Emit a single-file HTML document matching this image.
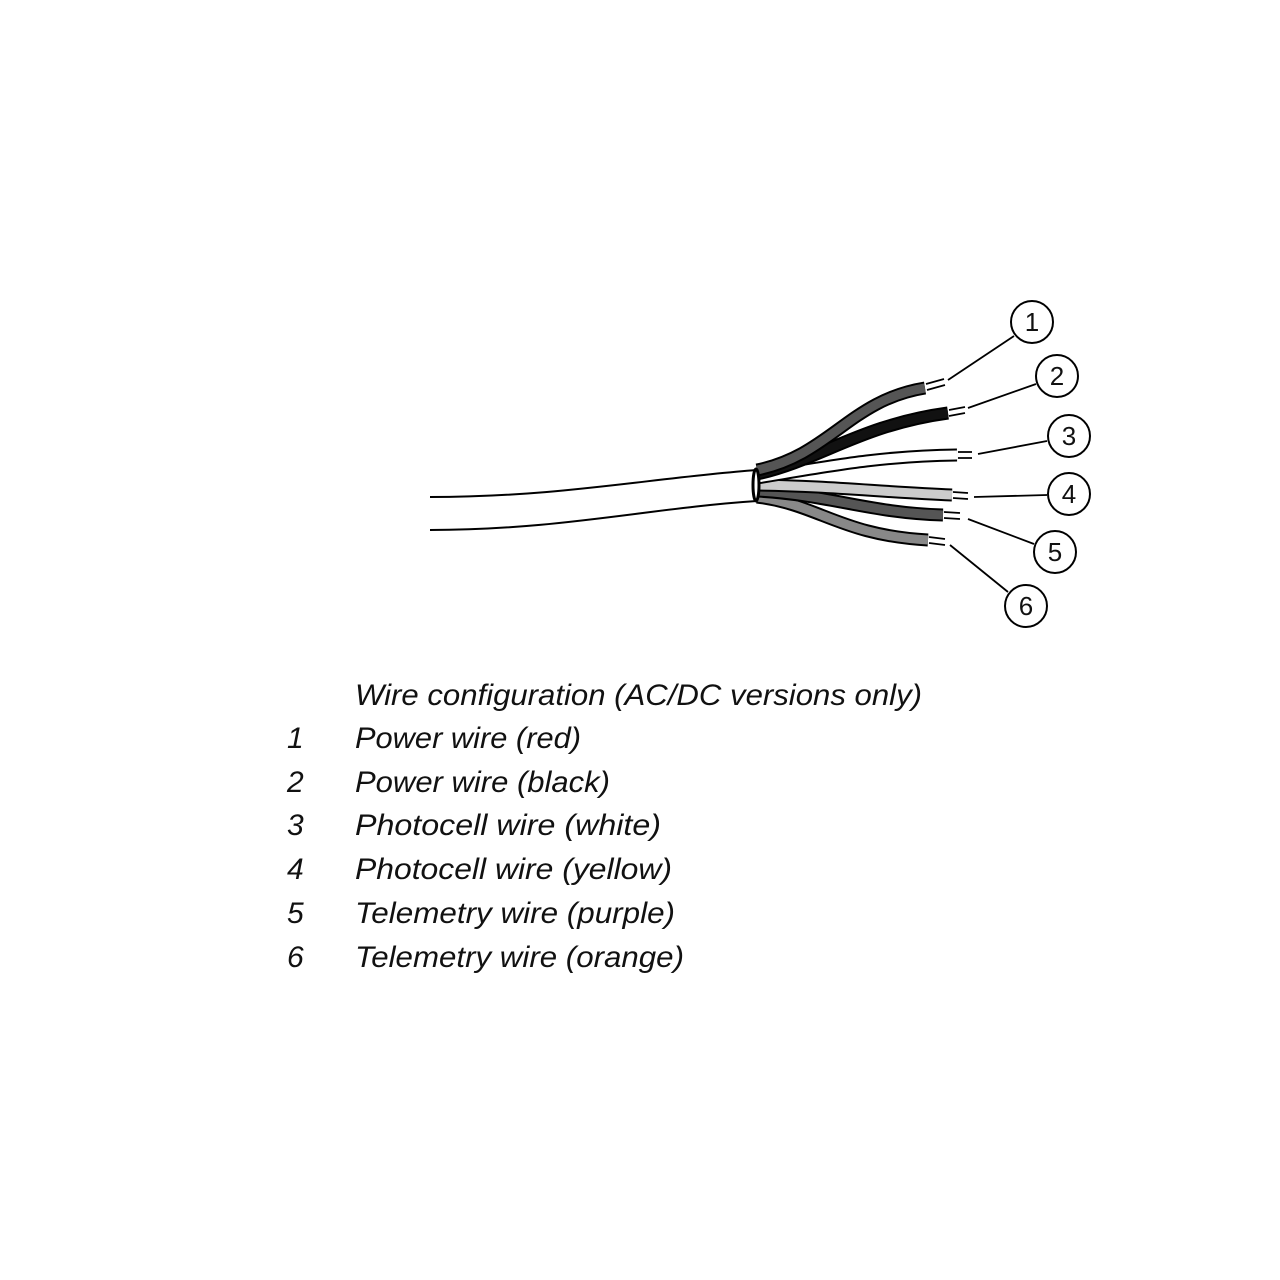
<!DOCTYPE html>
<html><head><style>
html,body{margin:0;padding:0;background:#fff;}
svg{display:block}
text{font-family:"Liberation Sans",sans-serif;font-style:italic;fill:#111}
</style></head><body>
<svg width="1280" height="1280" viewBox="0 0 1280 1280" xmlns="http://www.w3.org/2000/svg">
<g fill="none" stroke="#000" stroke-linecap="butt">
<path d="M430 497 C560 497 650 478 757 470" stroke-width="2"/>
<path d="M430 530 C560 530 650 508 757 501" stroke-width="2"/>
<path d="M757 497 C820 505 840 535 928 540" stroke="#000" stroke-width="13"/>
<path d="M757 497 C820 505 840 535 928 540" stroke="#888" stroke-width="9"/>
<path d="M757 491 C830 495 870 513 943 515" stroke="#000" stroke-width="13"/>
<path d="M757 491 C830 495 870 513 943 515" stroke="#555" stroke-width="9"/>
<path d="M757 485 C830 486 880 492 952 495" stroke="#000" stroke-width="13"/>
<path d="M757 485 C830 486 880 492 952 495" stroke="#ccc" stroke-width="9"/>
<path d="M757 478 C830 466 880 456 957 455" stroke="#000" stroke-width="13"/>
<path d="M757 478 C830 466 880 456 957 455" stroke="#fff" stroke-width="9"/>
<path d="M757 474 C820 460 860 425 948 413" stroke="#000" stroke-width="13"/>
<path d="M757 474 C820 460 860 425 948 413" stroke="#111" stroke-width="9"/>
<path d="M757 470 C830 455 850 400 925 388" stroke="#000" stroke-width="13"/>
<path d="M757 470 C830 455 850 400 925 388" stroke="#555" stroke-width="9"/>
<ellipse cx="756" cy="485" rx="3" ry="16" fill="#fff" stroke-width="3"/>
<g stroke-width="1.8">
<path d="M926 384 L944 379 M927 390 L945 385"/>
<path d="M949 410 L965 407 M949 416 L965 413"/>
<path d="M958 452 L972 452 M958 458 L972 458"/>
<path d="M953 492 L968 493 M953 498 L968 499"/>
<path d="M944 512 L960 513 M944 518 L960 519"/>
<path d="M929 537 L945 539 M929 543 L945 545"/>
</g>
<g stroke-width="1.8">
<path d="M948 380 L1014 336"/>
<path d="M968 408 L1036 384"/>
<path d="M978 454 L1047 441"/>
<path d="M974 497 L1047 495"/>
<path d="M968 519 L1034 544"/>
<path d="M950 545 L1008 592"/>
</g>
<g stroke-width="2" fill="#fff">
<circle cx="1032" cy="322" r="21"/>
<circle cx="1057" cy="376" r="21"/>
<circle cx="1069" cy="436" r="21"/>
<circle cx="1069" cy="494" r="21"/>
<circle cx="1055" cy="552" r="21"/>
<circle cx="1026" cy="606" r="21"/>
</g>
</g>
<g font-size="26" text-anchor="middle">
<text x="1032" y="331" style="font-style:normal">1</text>
<text x="1057" y="385" style="font-style:normal">2</text>
<text x="1069" y="445" style="font-style:normal">3</text>
<text x="1069" y="503" style="font-style:normal">4</text>
<text x="1055" y="561" style="font-style:normal">5</text>
<text x="1026" y="615" style="font-style:normal">6</text>
</g>
<g font-size="30">
<text x="355" y="705" textLength="567" lengthAdjust="spacingAndGlyphs">Wire configuration (AC/DC versions only)</text>
<text x="287" y="748">1</text><text x="355" y="748" textLength="226" lengthAdjust="spacingAndGlyphs">Power wire (red)</text>
<text x="287" y="792">2</text><text x="355" y="792" textLength="255" lengthAdjust="spacingAndGlyphs">Power wire (black)</text>
<text x="287" y="835">3</text><text x="355" y="835" textLength="306" lengthAdjust="spacingAndGlyphs">Photocell wire (white)</text>
<text x="287" y="879">4</text><text x="355" y="879" textLength="317" lengthAdjust="spacingAndGlyphs">Photocell wire (yellow)</text>
<text x="287" y="923">5</text><text x="355" y="923" textLength="320" lengthAdjust="spacingAndGlyphs">Telemetry wire (purple)</text>
<text x="287" y="967">6</text><text x="355" y="967" textLength="329" lengthAdjust="spacingAndGlyphs">Telemetry wire (orange)</text>
</g>
</svg>
</body></html>
